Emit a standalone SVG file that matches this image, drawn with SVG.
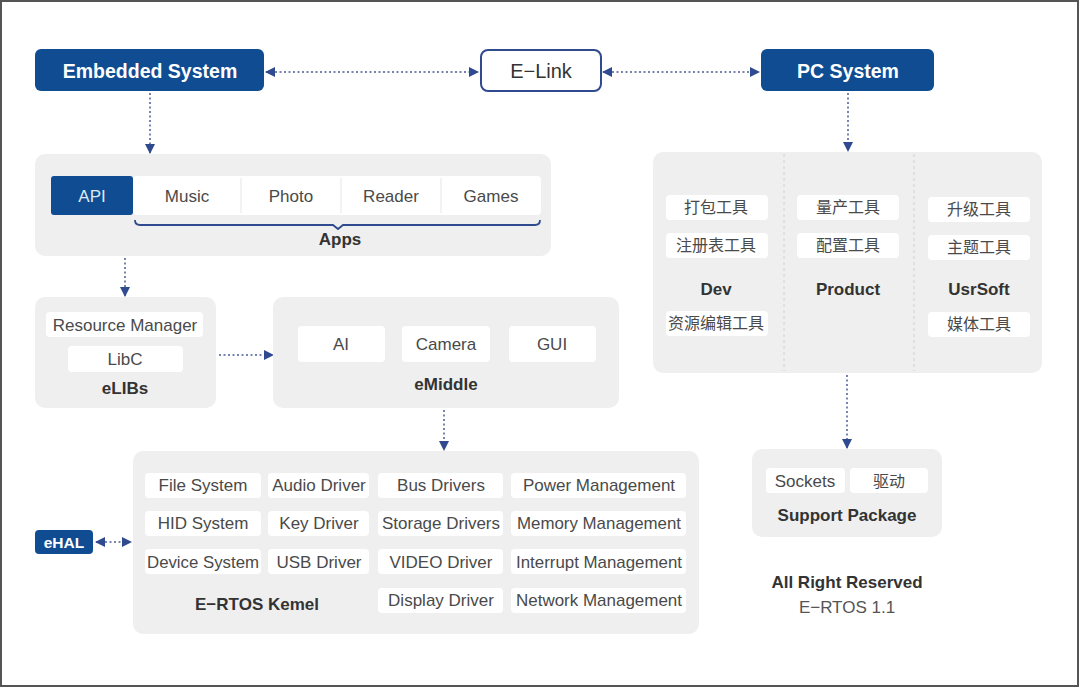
<svg xmlns="http://www.w3.org/2000/svg" width="1080" height="688" viewBox="0 0 1080 688">
<defs>
<style>
.frame{fill:#fff;stroke:#555;stroke-width:2}
.blue{fill:#0f4c92}
.panel{fill:#efefef}
.cell{fill:#fff}
.t{font-family:"Liberation Sans","Noto Sans CJK SC",sans-serif;font-size:17px;fill:#4a4a4a;text-anchor:middle;dominant-baseline:central}
.b{font-family:"Liberation Sans",sans-serif;font-size:17px;font-weight:bold;fill:#333;text-anchor:middle;dominant-baseline:central}
.w{font-family:"Liberation Sans",sans-serif;font-size:19.5px;font-weight:bold;fill:#fff;text-anchor:middle;dominant-baseline:central}
.conn{stroke:#4a5a96;stroke-width:1.5;stroke-dasharray:2 2.5;fill:none}
.div{stroke:#d0d0d0;stroke-width:1;stroke-dasharray:3 3}
</style>
<marker id="ahb" viewBox="0 0 10 10" refX="9" refY="5" markerWidth="10" markerHeight="10" markerUnits="userSpaceOnUse" orient="auto-start-reverse">
<path d="M0,0 L10,5 L0,10 z" fill="#2f4a8f"/>
</marker>
</defs>
<rect class="frame" x="1" y="1" width="1077" height="685"/>

<g id="connectors">
<line class="conn" x1="266" y1="72" x2="478" y2="72" marker-start="url(#ahb)" marker-end="url(#ahb)"/>
<line class="conn" x1="603" y1="72" x2="759" y2="72" marker-start="url(#ahb)" marker-end="url(#ahb)"/>
<line class="conn" x1="150" y1="93" x2="150" y2="153" marker-end="url(#ahb)"/>
<line class="conn" x1="848" y1="93" x2="848" y2="151" marker-end="url(#ahb)"/>
<line class="conn" x1="125" y1="258" x2="125" y2="296" marker-end="url(#ahb)"/>
<line class="conn" x1="219" y1="355" x2="273" y2="355" marker-end="url(#ahb)"/>
<line class="conn" x1="444" y1="410" x2="444" y2="450" marker-end="url(#ahb)"/>
<line class="conn" x1="847" y1="375" x2="847" y2="448" marker-end="url(#ahb)"/>
<line class="conn" x1="96" y1="542" x2="131" y2="542" marker-start="url(#ahb)" marker-end="url(#ahb)"/>
</g>

<g id="embedded">
<rect class="blue" x="35" y="49" width="229" height="42" rx="6"/>
<text class="w" x="150" y="71">Embedded System</text>
</g>
<g id="elink">
<rect x="481" y="50" width="120" height="41" rx="7" fill="#fff" stroke="#2f4a8f" stroke-width="2"/>
<text class="t" x="541" y="71" style="font-size:20px;fill:#333">E−Link</text>
</g>
<g id="pcsystem">
<rect class="blue" x="761" y="49" width="173" height="42" rx="6"/>
<text class="w" x="848" y="71">PC System</text>
</g>

<g id="apps">
<rect class="panel" x="35" y="154" width="516" height="102" rx="10"/>
<rect class="cell" x="133" y="176" width="408" height="39" rx="4"/>
<rect class="blue" x="51" y="176" width="82" height="39" rx="3"/>
<line x1="241" y1="178" x2="241" y2="213" stroke="#e6e6e6"/>
<line x1="341" y1="178" x2="341" y2="213" stroke="#e6e6e6"/>
<line x1="441" y1="178" x2="441" y2="213" stroke="#e6e6e6"/>
<text class="t" x="92" y="196" style="fill:#dfe8f5">API</text>
<text class="t" x="187" y="196">Music</text>
<text class="t" x="291" y="196">Photo</text>
<text class="t" x="391" y="196">Reader</text>
<text class="t" x="491" y="196">Games</text>
<path d="M135,220 Q135,225 140,225 L333,225 L338,229 L343,225 L535,225 Q540,225 540,220" fill="none" stroke="#2f4a8f" stroke-width="1.8"/>
<text class="b" x="340" y="239">Apps</text>
</g>

<g id="elibs">
<rect class="panel" x="35" y="297" width="181" height="111" rx="10"/>
<rect class="cell" x="46" y="312" width="157" height="25" rx="4"/>
<rect class="cell" x="68" y="346" width="115" height="26" rx="4"/>
<text class="t" x="125" y="325">Resource Manager</text>
<text class="t" x="125" y="359">LibC</text>
<text class="b" x="125" y="388">eLIBs</text>
</g>

<g id="emiddle">
<rect class="panel" x="273" y="297" width="346" height="111" rx="10"/>
<rect class="cell" x="298" y="326" width="87" height="36" rx="4"/>
<rect class="cell" x="402" y="326" width="88" height="36" rx="4"/>
<rect class="cell" x="509" y="326" width="87" height="36" rx="4"/>
<text class="t" x="341" y="344">AI</text>
<text class="t" x="446" y="344">Camera</text>
<text class="t" x="552" y="344">GUI</text>
<text class="b" x="446" y="384">eMiddle</text>
</g>

<g id="kernel">
<rect class="panel" x="133" y="451" width="566" height="183" rx="10"/>
<rect class="cell" x="145" y="473" width="116" height="25" rx="4"/>
<rect class="cell" x="268" y="473" width="101" height="25" rx="4"/>
<rect class="cell" x="378" y="473" width="125" height="25" rx="4"/>
<rect class="cell" x="511" y="473" width="175" height="25" rx="4"/>
<rect class="cell" x="145" y="511" width="116" height="25" rx="4"/>
<rect class="cell" x="268" y="511" width="101" height="25" rx="4"/>
<rect class="cell" x="378" y="511" width="125" height="25" rx="4"/>
<rect class="cell" x="511" y="511" width="175" height="25" rx="4"/>
<rect class="cell" x="145" y="549" width="116" height="25" rx="4"/>
<rect class="cell" x="268" y="549" width="101" height="25" rx="4"/>
<rect class="cell" x="378" y="549" width="125" height="25" rx="4"/>
<rect class="cell" x="511" y="549" width="175" height="25" rx="4"/>
<rect class="cell" x="378" y="588" width="125" height="25" rx="4"/>
<rect class="cell" x="511" y="588" width="175" height="25" rx="4"/>
<text class="t" x="203" y="485">File System</text>
<text class="t" x="319" y="485">Audio Driver</text>
<text class="t" x="441" y="485">Bus Drivers</text>
<text class="t" x="599" y="485">Power Management</text>
<text class="t" x="203" y="523">HID System</text>
<text class="t" x="319" y="523">Key Driver</text>
<text class="t" x="441" y="523" textLength="118" lengthAdjust="spacingAndGlyphs">Storage Drivers</text>
<text class="t" x="599" y="523" textLength="164" lengthAdjust="spacingAndGlyphs">Memory Management</text>
<text class="t" x="203" y="562" textLength="112" lengthAdjust="spacingAndGlyphs">Device System</text>
<text class="t" x="319" y="562">USB Driver</text>
<text class="t" x="441" y="562">VIDEO Driver</text>
<text class="t" x="599" y="562" textLength="166" lengthAdjust="spacingAndGlyphs">Interrupt Management</text>
<text class="t" x="441" y="600">Display Driver</text>
<text class="t" x="599" y="600" textLength="166" lengthAdjust="spacingAndGlyphs">Network Management</text>
<text class="b" x="257" y="604">E−RTOS Kemel</text>
</g>

<g id="ehal">
<rect class="blue" x="35" y="530" width="58" height="24" rx="4"/>
<text class="w" x="64" y="542" style="font-size:15.5px">eHAL</text>
</g>

<g id="pctools">
<rect class="panel" x="653" y="152" width="389" height="221" rx="10"/>
<line class="div" x1="784" y1="154" x2="784" y2="371"/>
<line class="div" x1="914" y1="154" x2="914" y2="371"/>
<rect class="cell" x="666" y="195" width="102" height="25" rx="4"/>
<rect class="cell" x="666" y="233" width="102" height="25" rx="4"/>
<rect class="cell" x="666" y="311" width="102" height="25" rx="4"/>
<rect class="cell" x="797" y="195" width="102" height="25" rx="4"/>
<rect class="cell" x="797" y="233" width="102" height="25" rx="4"/>
<rect class="cell" x="928" y="197" width="102" height="25" rx="4"/>
<rect class="cell" x="928" y="235" width="102" height="25" rx="4"/>
<rect class="cell" x="928" y="312" width="102" height="25" rx="4"/>
<text class="t" x="716" y="207" style="font-size:16px">打包工具</text>
<text class="t" x="716" y="245" style="font-size:16px">注册表工具</text>
<text class="b" x="716" y="289">Dev</text>
<text class="t" x="716" y="323" style="font-size:16px">资源编辑工具</text>
<text class="t" x="848" y="207" style="font-size:16px">量产工具</text>
<text class="t" x="848" y="245" style="font-size:16px">配置工具</text>
<text class="b" x="848" y="289">Product</text>
<text class="t" x="979" y="209" style="font-size:16px">升级工具</text>
<text class="t" x="979" y="247" style="font-size:16px">主题工具</text>
<text class="b" x="979" y="289">UsrSoft</text>
<text class="t" x="979" y="324" style="font-size:16px">媒体工具</text>
</g>

<g id="support">
<rect class="panel" x="752" y="449" width="190" height="88" rx="10"/>
<rect class="cell" x="766" y="468" width="79" height="25" rx="4"/>
<rect class="cell" x="850" y="468" width="78" height="25" rx="4"/>
<text class="t" x="805" y="481">Sockets</text>
<text class="t" x="889" y="481" style="font-size:16px">驱动</text>
<text class="b" x="847" y="515">Support Package</text>
</g>

<g id="footer">
<text class="b" x="847" y="582">All Right Reserved</text>
<text class="t" x="847" y="607" style="fill:#555">E−RTOS 1.1</text>
</g>
</svg>
